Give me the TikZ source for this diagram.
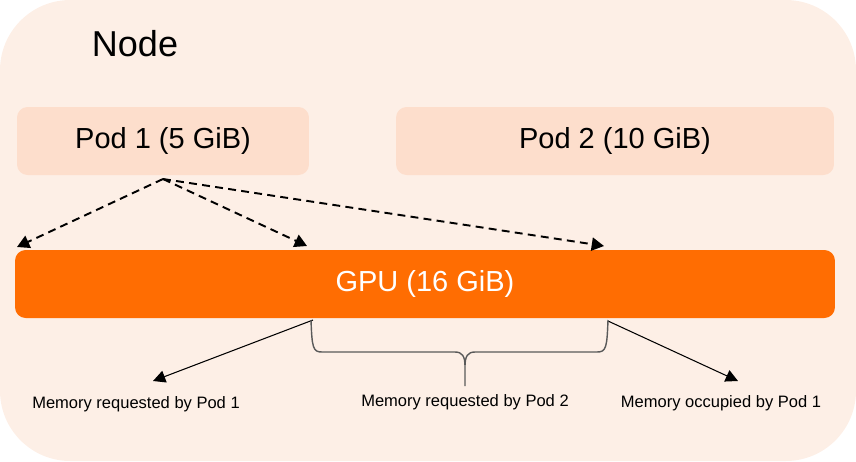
\documentclass[tikz,border=0pt]{standalone}
\usepackage{fontspec}
\setmainfont{Liberation Sans}
\usepackage{xcolor}
\usetikzlibrary{arrows.meta}

\definecolor{nodebg}{RGB}{253,239,230}
\definecolor{podbg}{RGB}{253,222,204}
\definecolor{gpuorange}{RGB}{255,109,2}
\definecolor{bracegray}{RGB}{90,90,90}

\tikzset{
  podbox/.style={fill=podbg,rounded corners=6pt,minimum height=1.36cm,
    inner sep=0pt,font=\fontsize{16.5}{18}\selectfont},
  memlabel/.style={inner sep=0pt,font=\fontsize{9.4}{11}\selectfont},
  podarrow/.style={-{Triangle[width=7.5pt,length=7pt]},line width=1.1pt,
    dash pattern=on 4.5pt off 3pt},
  memarrow/.style={-{Triangle[width=7pt,length=7pt]},line width=0.6pt}
}

\begin{document}
\begin{tikzpicture}[x=0.02cm,y=-0.02cm]
  % node background
  \fill[nodebg,rounded corners=40pt] (0,0) rectangle (856,461);
  \node (title) at (135,44) {\fontsize{20.5}{24}\selectfont Node};

  % pods
  \node[podbox,minimum width=5.84cm] (pod1) at (163,141) {Pod 1 (5 GiB)};
  \node[podbox,minimum width=8.76cm] (pod2) at (615,141) {Pod 2 (10 GiB)};

  % gpu
  \node[fill=gpuorange,rounded corners=6pt,minimum width=16.4cm,
    minimum height=1.36cm,text=white,font=\fontsize{16.5}{18}\selectfont]
    (gpu) at (425,284) {GPU (16 GiB)};

  \coordinate (src) at (163,179);
  \coordinate (t1) at (17,247);
  \coordinate (t2) at (307,246);
  \coordinate (t3) at (604,246);
  \draw[podarrow] (src) -- (t1);
  \draw[podarrow] (src) -- (t2);
  \draw[podarrow] (src) -- (t3);

  % memory labels
  \node[memlabel] (req1) at (136,404) {Memory requested by Pod 1};
  \node[memlabel] (req2) at (465,402) {Memory requested by Pod 2};
  \node[memlabel] (occ1) at (721,403) {Memory occupied by Pod 1};

  \coordinate (cut1) at (313,320);
  \coordinate (cut2) at (608,321);
  \coordinate (tip1) at (153,381);
  \coordinate (tip2) at (738,381);
  \coordinate (bl) at (311,320);
  \coordinate (br) at (608,320);
  \coordinate (bt) at (465,386);
  \draw[memarrow] (cut1) -- (tip1);
  \draw[memarrow] (cut2) -- (tip2);
  % brace
  \draw[bracegray,line width=0.8pt]
    (bl) .. controls (312,348) and (313,352) .. (322,352) -- (455,352)
    .. controls (462,352) and (465,356) .. (465,366) -- (bt)
    (br) .. controls (607,348) and (606,352) .. (597,352) -- (475,352)
    .. controls (468,352) and (465,356) .. (465,366);
\end{tikzpicture}
\end{document}
